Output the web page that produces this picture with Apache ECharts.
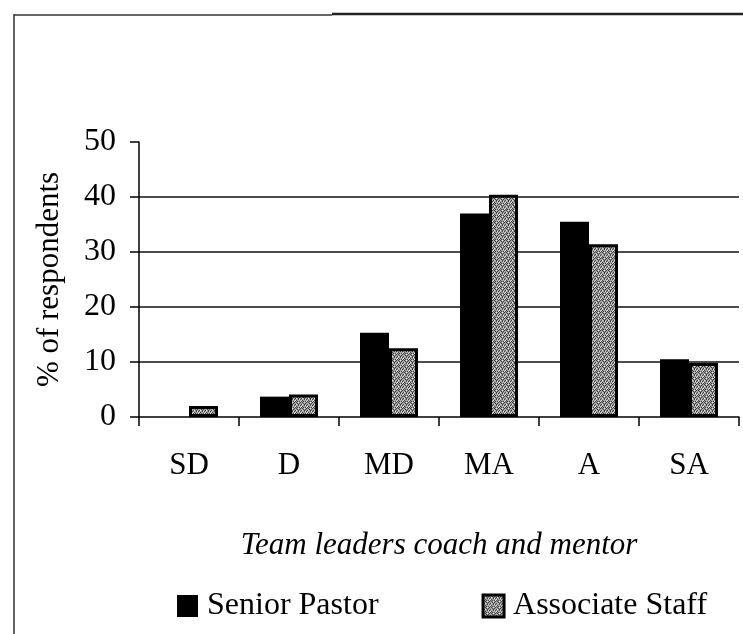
<!DOCTYPE html>
<html>
<head>
<meta charset="utf-8">
<script src="https://cdn.jsdelivr.net/npm/echarts@6/dist/echarts.min.js"></script>
<style>
html,body{margin:0;padding:0;background:#fff;}
#chart{width:743px;height:634px;}
</style>
</head>
<body>
<div id="chart"></div>
<script>
var categories = ['SD', 'D', 'MD', 'MA', 'A', 'SA'];
var seniorPastor = [0, 3.7, 15.3, 37.0, 35.5, 10.5];
var associateStaff = [2.0, 4.1, 12.5, 40.4, 31.4, 9.8];
var yTicks = [0, 10, 20, 30, 40, 50];
var seriesNames = ['Senior Pastor', 'Associate Staff'];

var FONT = "Liberation Serif, Times New Roman, serif";

// stipple texture for the Associate Staff bars
function makeStipple() {
  var c = document.createElement('canvas');
  c.width = 6; c.height = 6;
  var ctx = c.getContext('2d');
  ctx.fillStyle = '#a2a2a2';
  ctx.fillRect(0, 0, 6, 6);
  var dots = [[0,0],[3,1],[1,2],[4,3],[2,4],[5,5],[0,3],[3,5],[5,1],[2,0],[1,5],[4,2]];
  ctx.fillStyle = '#3c3c3c';
  dots.forEach(function (d) { ctx.fillRect(d[0], d[1], 1, 1); });
  ctx.fillStyle = '#e6e6e6';
  [[1,4],[4,0],[5,3],[2,2],[0,5]].forEach(function (d) { ctx.fillRect(d[0], d[1], 1, 1); });
  return c;
}
var stipple = makeStipple();

var chart = echarts.init(document.getElementById('chart'), null, {renderer: 'canvas'});
chart.setOption({
  animation: false,
  backgroundColor: '#ffffff',
  textStyle: {fontFamily: FONT},
  grid: {left: 139, right: 4, top: 142, bottom: 217, containLabel: false},
  legend: {
    left: 172, top: 585,
    itemWidth: 21, itemHeight: 22, itemGap: 103,
    selectedMode: false,
    textStyle: {fontFamily: FONT, fontSize: 32, color: '#000',
      rich: {t: {fontFamily: FONT, fontSize: 32, color: '#000', padding: [0, 0, 0, 4]}}},
    formatter: function (name) { return '{t|' + name + '}'; },
    data: [
      {name: seriesNames[0], icon: 'rect', itemStyle: {color: '#000', borderWidth: 0}},
      {name: seriesNames[1], icon: 'rect', itemStyle: {color: {image: stipple, repeat: 'repeat'}, borderColor: '#000', borderWidth: 3}}
    ]
  },
  xAxis: {
    type: 'category',
    data: categories,
    boundaryGap: true,
    axisLine: {show: true, lineStyle: {color: '#000', width: 1.5}},
    axisTick: {show: true, length: 9, inside: false, alignWithLabel: false, lineStyle: {color: '#000', width: 1.5}},
    axisLabel: {fontFamily: FONT, fontSize: 31, color: '#000', margin: 33},
    name: 'Team leaders coach and mentor',
    nameLocation: 'middle',
    nameGap: 113,
    nameTextStyle: {fontFamily: FONT, fontSize: 31, fontStyle: 'italic', color: '#000'}
  },
  yAxis: {
    type: 'value',
    min: 0, max: 50, interval: 10,
    axisLine: {show: true, lineStyle: {color: '#000', width: 1.5}},
    axisTick: {show: true, length: 9, inside: false, lineStyle: {color: '#000', width: 1.5}},
    axisLabel: {fontFamily: FONT, fontSize: 32, color: '#000', margin: 23,
      formatter: function (v) { return yTicks.indexOf(v) >= 0 ? String(v) : ''; }},
    splitLine: {show: true, showMinLine: false, showMaxLine: false, lineStyle: {color: '#111', width: 1.5}},
    name: '% of respondents',
    nameLocation: 'middle',
    nameGap: 74,
    nameRotate: 90,
    nameTextStyle: {fontFamily: FONT, fontSize: 31, color: '#000'}
  },
  series: [
    {
      name: seriesNames[0], type: 'bar', data: seniorPastor,
      barWidth: 29, barGap: '0%',
      itemStyle: {color: '#000'}
    },
    {
      name: seriesNames[1], type: 'bar', data: associateStaff,
      barWidth: 29, barGap: '0%',
      itemStyle: {color: {image: stipple, repeat: 'repeat'}, borderColor: '#000', borderWidth: 3}
    }
  ],
  graphic: [
    {type: 'line', shape: {x1: 14, y1: 14, x2: 14, y2: 634}, style: {stroke: '#333', lineWidth: 1.5}},
    {type: 'line', shape: {x1: 14, y1: 15, x2: 332, y2: 15}, style: {stroke: '#333', lineWidth: 1.5}},
    {type: 'line', shape: {x1: 332, y1: 14, x2: 743, y2: 14}, style: {stroke: '#222', lineWidth: 2.5}}
  ]
});
</script>
</body>
</html>
